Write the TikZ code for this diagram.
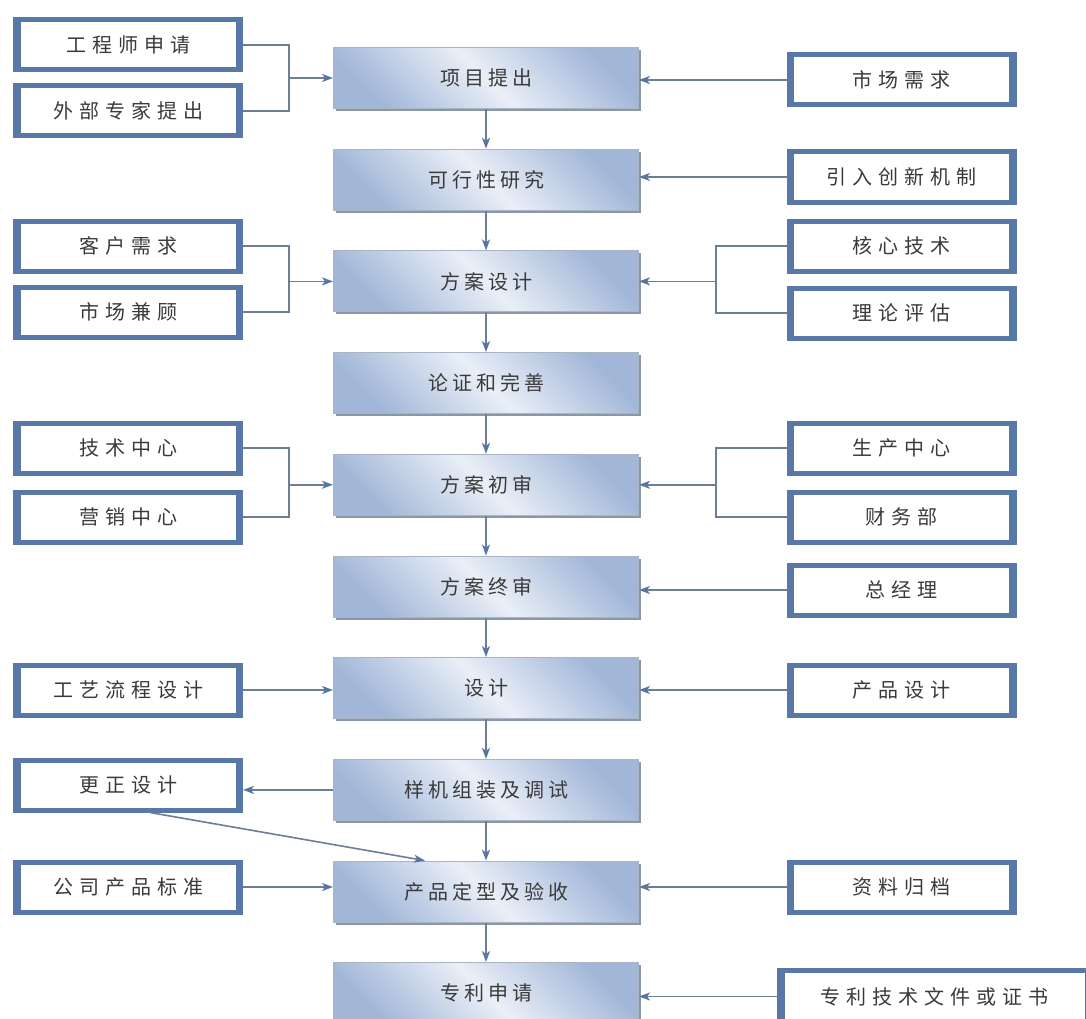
\documentclass[tikz,border=0pt]{standalone}
\usepackage{fontspec}
\setmainfont{Noto Sans CJK SC}
\newfontfamily\sidetxt[LetterSpace=30]{Noto Sans CJK SC}
\newfontfamily\steptxt[LetterSpace=20]{Noto Sans CJK SC}
\usetikzlibrary{arrows.meta,shadows}

\definecolor{sideblue}{HTML}{5878A8}
\definecolor{linec}{HTML}{6E7F95}
\definecolor{arrowc}{HTML}{5676A2}
\definecolor{stepblue}{HTML}{A2B7D8}
\definecolor{steplight}{HTML}{EAEFF7}
\definecolor{stepedge}{HTML}{A9B4C4}
\definecolor{shadowc}{HTML}{8C97A6}
\definecolor{txt}{HTML}{3A3A3A}

\tikzset{
  stepbox/.style={rectangle, minimum width=305pt, minimum height=61pt,
    draw=stepedge, line width=1pt,
    shading=axis, top color=stepblue, bottom color=stepblue,
    middle color=steplight, shading angle=-45,
    drop shadow={shadow xshift=2.5pt, shadow yshift=-2.5pt,
      fill=shadowc, opacity=1},
    font=\steptxt\fontsize{20pt}{24pt}\selectfont, text=txt},
  sidebox/.style={rectangle, minimum width=225pt, minimum height=50pt,
    fill=white, draw=sideblue, line width=5pt,
    path picture={
      \fill[sideblue] (path picture bounding box.north west) rectangle
        ([xshift=5pt]path picture bounding box.south west);
      \fill[sideblue] (path picture bounding box.north east) rectangle
        ([xshift=-5pt]path picture bounding box.south east);
    },
    font=\sidetxt\fontsize{20pt}{24pt}\selectfont, text=txt},
  link/.style={draw=linec, line width=1.6pt},
  arr/.style={link, -{Stealth[length=11pt, width=8pt, inset=3pt, color=arrowc]}}
}

\begin{document}
\begin{tikzpicture}[x=1pt, y=-1pt]
\useasboundingbox (0,0) rectangle (1086,1019);
\clip (0,0) rectangle (1086,1019);
\fill[white] (0,0) rectangle (1086,1019);

% main process column
\node[stepbox] (m0) at (486,78)    {项目提出};
\node[stepbox] (m1) at (486,179.7) {可行性研究};
\node[stepbox] (m2) at (486,281.4) {方案设计};
\node[stepbox] (m3) at (486,383)   {论证和完善};
\node[stepbox] (m4) at (486,484.8) {方案初审};
\node[stepbox] (m5) at (486,586.5) {方案终审};
\node[stepbox] (m6) at (486,688)   {设计};
\node[stepbox] (m7) at (486,789.9) {样机组装及调试};
\node[stepbox] (m8) at (486,891.6) {产品定型及验收};
\node[stepbox] (m9) at (486,993)   {专利申请};

% inputs on the left
\node[sidebox] (l0a) at (128,45)  {工程师申请};
\node[sidebox] (l0b) at (128,111) {外部专家提出};
\node[sidebox] (l2a) at (128,246) {客户需求};
\node[sidebox] (l2b) at (128,312) {市场兼顾};
\node[sidebox] (l4a) at (128,448) {技术中心};
\node[sidebox] (l4b) at (128,517) {营销中心};
\node[sidebox] (l6)  at (128,690) {工艺流程设计};
\node[sidebox] (l7)  at (128,785) {更正设计};
\node[sidebox] (l8)  at (128,887) {公司产品标准};

% inputs on the right
\node[sidebox] (r0)  at (901.5,80)  {市场需求};
\node[sidebox] (r1)  at (901.5,177) {引入创新机制};
\node[sidebox] (r2a) at (901.5,246) {核心技术};
\node[sidebox] (r2b) at (901.5,313) {理论评估};
\node[sidebox] (r4a) at (901.5,448) {生产中心};
\node[sidebox] (r4b) at (901.5,517) {财务部};
\node[sidebox] (r5)  at (901.5,590) {总经理};
\node[sidebox] (r6)  at (901.5,690) {产品设计};
\node[sidebox] (r8)  at (901.5,887) {资料归档};
\node[sidebox, minimum width=310pt, minimum height=52pt] (r9) at (934.5,996.5) {专利技术文件或证书};

% flow down the main column
\foreach \a/\b in {m0/m1,m1/m2,m2/m3,m3/m4,m4/m5,m5/m6,m6/m7,m7/m8,m8/m9}
  \draw[arr] (\a.south) -- (\b.north);

% left brackets
\coordinate (jl0) at (289,78);
\coordinate (jl2) at (289,281.4);
\coordinate (jl4) at (289,484.8);
\draw[link] (l0a.east) -| (jl0) |- (l0b.east);
\draw[link] (l2a.east) -| (jl2) |- (l2b.east);
\draw[link] (l4a.east) -| (jl4) |- (l4b.east);
\draw[arr] (jl0) -- (jl0 -| m0.west);
\draw[arr] (jl2) -- (jl2 -| m2.west);
\draw[arr] (jl4) -- (jl4 -| m4.west);

% right brackets
\coordinate (jr2) at (716,281.4);
\coordinate (jr4) at (716,484.8);
\draw[link] (r2a.west) -| (jr2) |- (r2b.west);
\draw[link] (r4a.west) -| (jr4) |- (r4b.west);
\draw[arr] (jr2) -- (jr2 -| m2.east);
\draw[arr] (jr4) -- (jr4 -| m4.east);

% single inputs
\draw[arr] (l6.east) -- (l6.east -| m6.west);
\draw[arr] (l8.east) -- (l8.east -| m8.west);
\foreach \s/\m in {r0/m0,r1/m1,r5/m5,r6/m6,r8/m8,r9/m9}
  \draw[arr] (\s.west) -- (\s.west -| \m.east);

% correction loop
\draw[arr] (m7.west) -- (m7.west -| l7.east);
\draw[arr] ([xshift=22pt]l7.south) -- ([xshift=92pt]m8.north west);
\end{tikzpicture}
\end{document}
